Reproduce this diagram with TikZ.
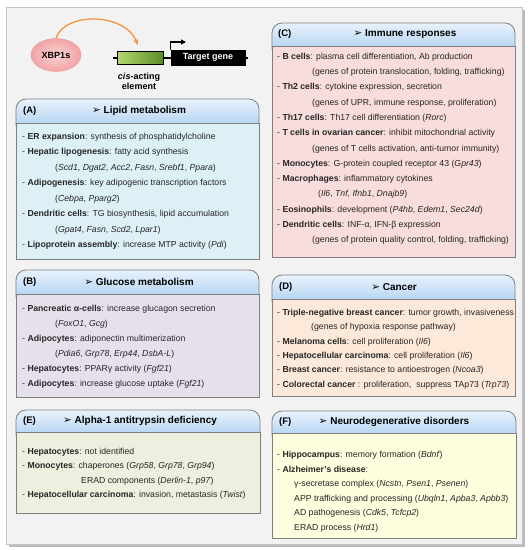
\documentclass[tikz,border=0pt]{standalone}
\usepackage{fontspec}
\setmainfont{Liberation Sans}
\newfontfamily\dingfont{DejaVu Sans}
\usetikzlibrary{arrows.meta,shapes.geometric}

\definecolor{framebg}{HTML}{F2F2F2}
\definecolor{panelgray}{HTML}{7F7F7F}
\definecolor{hdrtop}{HTML}{E8F2FC}
\definecolor{hdrbot}{HTML}{A2C9F0}
\definecolor{bodyA}{HTML}{DCF0F5}
\definecolor{bodyB}{HTML}{E6E0EC}
\definecolor{bodyC}{HTML}{F9DCDC}
\definecolor{bodyD}{HTML}{FDE9D9}
\definecolor{bodyE}{HTML}{EBF1DE}
\definecolor{bodyF}{HTML}{FEFDDD}
\definecolor{txtgray}{HTML}{262626}
\definecolor{xbpin}{HTML}{FBD3D3}
\definecolor{xbpout}{HTML}{F2A3A3}
\definecolor{xbpedge}{HTML}{E89A9A}
\definecolor{cisleft}{HTML}{B4D86C}
\definecolor{cisright}{HTML}{5C8C2A}
\definecolor{arrowor}{HTML}{F0963C}

\newcommand{\hdrarrow}{{\dingfont\mdseries\fontsize{10.5}{12}\selectfont ➢}}

\begin{document}
\begin{tikzpicture}[x=1pt,y=-1pt,
  panel/.style={draw=panelgray, line width=0.8pt},
  hdr/.style={panel, rounded corners=10pt, top color=hdrtop, bottom color=hdrbot},
  lbl/.style={anchor=west, inner sep=0pt, font=\fontsize{9.5}{11}\selectfont\bfseries},
  ttl/.style={inner sep=0pt, font=\fontsize{10}{12}\selectfont\bfseries},
  txt/.style={anchor=west, inner sep=0pt, text=txtgray, font=\fontsize{8.7}{10}\selectfont},
  topfont/.style={font=\fontsize{9}{10.5}\selectfont\bfseries}]
  \useasboundingbox (0,0) rectangle (531,550);
  \fill[gray!55] (9,10) rectangle (525,547);
  \draw[gray!45, fill=framebg] (6,7) rectangle (522,544);

  % XBP1s binding to the cis-acting element
  \node[ellipse, minimum width=50pt, minimum height=33pt, inner color=xbpin,
    outer color=xbpout, draw=xbpedge, topfont] (xbp) at (56,55) {XBP1s};
  \coordinate (lnl) at (113,57.5);
  \coordinate (lnr) at (248,57.5);
  \draw[line width=2pt] (lnl) -- (lnr);
  \node[draw=black, line width=0.8pt, left color=cisleft, right color=cisright,
    minimum width=46pt, minimum height=13pt, inner sep=0pt] (cis) at (140,57.5) {};
  \node[draw=black, fill=black, text=white, minimum width=74pt, minimum height=15pt,
    inner sep=0pt, topfont] (tg) at (208,57.5) {Target gene};
  \coordinate (tss) at (186,42);
  \draw[line width=1.2pt, -{Triangle[length=5pt,width=5pt]}] (tg.north west) |- (tss);
  \node[align=center, inner sep=0pt, topfont] (cislbl) at (139,81.5)
    {\textit{cis}-acting\\[-1pt]element};
  \draw[arrowor, line width=1.3pt, shorten >=6pt, -{Stealth[length=6pt,width=5pt]}]
    (xbp.north) .. controls (64,12) and (125,12) .. (cis.north);

  % (A)
  \draw[hdr] (16,99) rectangle (259,135);
  \draw[panel, fill=bodyA] (16,123) rectangle (259,259);
  \node[lbl] (la) at (23,111) {(A)};
  \node[ttl] (ta) at (139,111) {\hdrarrow\ Lipid metabolism};
  \node[txt] (a1) at (22,137) {- \textbf{ER expansion}: synthesis of phosphatidylcholine};
  \node[txt] (a2) at (22,152.5) {- \textbf{Hepatic lipogenesis}: fatty acid synthesis};
  \node[txt] (a3) at (55,168) {(\textit{Scd1}, \textit{Dgat2}, \textit{Acc2}, \textit{Fasn}, \textit{Srebf1}, \textit{Ppara})};
  \node[txt] (a4) at (22,183.5) {- \textbf{Adipogenesis}: key adipogenic transcription factors};
  \node[txt] (a5) at (55,199) {(\textit{Cebpa}, \textit{Pparg2})};
  \node[txt] (a6) at (22,214.5) {- \textbf{Dendritic cells}: TG biosynthesis, lipid accumulation};
  \node[txt] (a7) at (55,230) {(\textit{Gpat4}, \textit{Fasn}, \textit{Scd2}, \textit{Lpar1})};
  \node[txt] (a8) at (22,245.5) {- \textbf{Lipoprotein assembly}: increase MTP activity (\textit{Pdi})};

  % (B)
  \draw[hdr] (16,270) rectangle (259,306);
  \draw[panel, fill=bodyB] (16,294) rectangle (259,397);
  \node[lbl] (lb) at (23,282) {(B)};
  \node[ttl] (tb) at (139,282) {\hdrarrow\ Glucose metabolism};
  \node[txt] (b1) at (22,309) {- \textbf{Pancreatic α-cells}: increase glucagon secretion};
  \node[txt] (b2) at (55,324) {(\textit{FoxO1}, \textit{Gcg})};
  \node[txt] (b3) at (22,339) {- \textbf{Adipocytes}: adiponectin multimerization};
  \node[txt] (b4) at (55,354) {(\textit{Pdia6}, \textit{Grp78}, \textit{Erp44}, \textit{DsbA-L})};
  \node[txt] (b5) at (22,369) {- \textbf{Hepatocytes}: PPARγ activity (\textit{Fgf21})};
  \node[txt] (b6) at (22,384) {- \textbf{Adipocytes}: increase glucose uptake (\textit{Fgf21})};

  % (E)
  \draw[hdr] (16,410) rectangle (260,444);
  \draw[panel, fill=bodyE] (16,432) rectangle (260,513);
  \node[lbl] (le) at (23,421) {(E)};
  \node[ttl] (te) at (140,421) {\hdrarrow\ Alpha-1 antitrypsin deficiency};
  \node[txt] (e1) at (22,452) {- \textbf{Hepatocytes}: not identified};
  \node[txt] (e2) at (22,466.5) {- \textbf{Monocytes}: chaperones (\textit{Grp58}, \textit{Grp78}, \textit{Grp94})};
  \node[txt] (e3) at (81,481) {ERAD components (\textit{Derlin-1}, \textit{p97})};
  \node[txt] (e4) at (22,495.5) {- \textbf{Hepatocellular carcinoma}: invasion, metastasis (\textit{Twist})};

  % (C)
  \draw[hdr] (272,23) rectangle (515,58);
  \draw[panel, fill=bodyC] (272,46) rectangle (515,257);
  \node[lbl] (lc) at (278,34.5) {(C)};
  \node[ttl] (tc) at (405,34.5) {\hdrarrow\ Immune responses};
  \node[txt] (c1) at (277,57) {- \textbf{B cells}: plasma cell differentiation, Ab production};
  \node[txt] (c2) at (312,72.3) {(genes of protein translocation, folding, trafficking)};
  \node[txt] (c3) at (277,87.6) {- \textbf{Th2 cells}: cytokine expression, secretion};
  \node[txt] (c4) at (312,102.9) {(genes of UPR, immune response, proliferation)};
  \node[txt] (c5) at (277,118.2) {- \textbf{Th17 cells}: Th17 cell differentiation (\textit{Rorc})};
  \node[txt] (c6) at (277,133.5) {- \textbf{T cells in ovarian cancer}: inhibit mitochondrial activity};
  \node[txt] (c7) at (312,148.8) {(genes of T cells activation, anti-tumor immunity)};
  \node[txt] (c8) at (277,164.1) {- \textbf{Monocytes}: G-protein coupled receptor 43 (\textit{Gpr43})};
  \node[txt] (c9) at (277,179.4) {- \textbf{Macrophages}: inflammatory cytokines};
  \node[txt] (c10) at (318,194.7) {(\textit{Il6}, \textit{Tnf}, \textit{Ifnb1}, \textit{Dnajb9})};
  \node[txt] (c11) at (277,210) {- \textbf{Eosinophils}: development (\textit{P4hb}, \textit{Edem1}, \textit{Sec24d})};
  \node[txt] (c12) at (277,225.3) {- \textbf{Dendritic cells}: INF-α, IFN-β expression};
  \node[txt] (c13) at (312,240.6) {(genes of protein quality control, folding, trafficking)};

  % (D)
  \draw[hdr] (272,275) rectangle (515,311);
  \draw[panel, fill=bodyD] (272,299) rectangle (515,396);
  \node[lbl] (ld) at (279,287) {(D)};
  \node[ttl] (td) at (394,287) {\hdrarrow\ Cancer};
  \node[txt] (d1) at (277,313) {- \textbf{Triple-negative breast cancer}: tumor growth, invasiveness};
  \node[txt] (d2) at (311,327.4) {(genes of hypoxia response pathway)};
  \node[txt] (d3) at (277,341.8) {- \textbf{Melanoma cells}: cell proliferation (\textit{Il6})};
  \node[txt] (d4) at (277,356.2) {- \textbf{Hepatocellular carcinoma}: cell proliferation (\textit{Il6})};
  \node[txt] (d5) at (277,370.6) {- \textbf{Breast cancer}: resistance to antioestrogen (\textit{Ncoa3})};
  \node[txt] (d6) at (277,385) {- \textbf{Colorectal cancer} : proliferation,\ \ suppress TAp73 (\textit{Trp73})};

  % (F)
  \draw[hdr] (272,411) rectangle (516,445);
  \draw[panel, fill=bodyF] (272,433) rectangle (516,538);
  \node[lbl] (lf) at (279,422) {(F)};
  \node[ttl] (tf) at (394,422) {\hdrarrow\ Neurodegenerative disorders};
  \node[txt] (f1) at (277,455) {- \textbf{Hippocampus}: memory formation (\textit{Bdnf})};
  \node[txt] (f2) at (277,469.6) {- \textbf{Alzheimer's disease}:};
  \node[txt] (f3) at (294,484.2) {γ-secretase complex (\textit{Ncstn}, \textit{Psen1}, \textit{Psenen})};
  \node[txt] (f4) at (294,498.8) {APP trafficking and processing (\textit{Ubqln1}, \textit{Apba3}, \textit{Apbb3})};
  \node[txt] (f5) at (294,513.4) {AD pathogenesis (\textit{Cdk5}, \textit{Tcfcp2})};
  \node[txt] (f6) at (294,528) {ERAD process (\textit{Hrd1})};
\end{tikzpicture}
\end{document}
